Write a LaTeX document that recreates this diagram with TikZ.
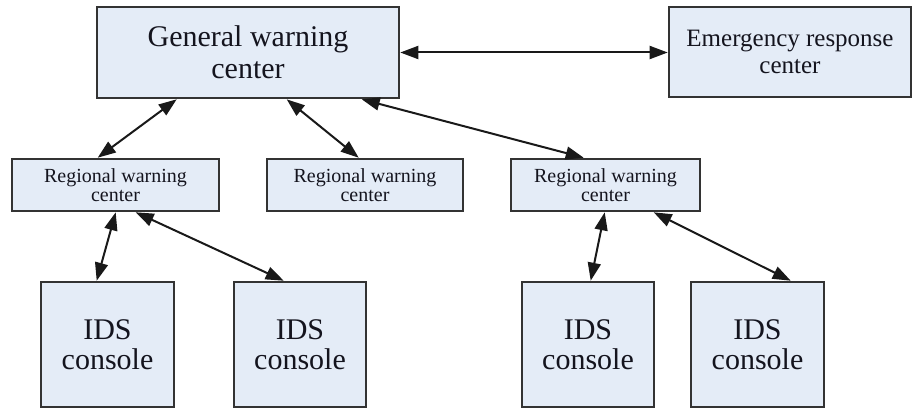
\documentclass[tikz,border=0pt]{standalone}
\usepackage{fontspec}
\setmainfont{Liberation Serif}
\usetikzlibrary{arrows.meta,calc}
\definecolor{boxfill}{HTML}{E4ECF7}
\definecolor{boxline}{HTML}{333333}
\definecolor{txt}{HTML}{14141E}
\tikzset{
  box/.style={draw=boxline, fill=boxfill, line width=2.6pt, inner sep=0pt, align=center, text=txt},
  bigbox/.style={box, font=\fontsize{30}{32}\selectfont},
  embox/.style={box, font=\fontsize{25}{27}\selectfont},
  regbox/.style={box, font=\fontsize{20}{19}\selectfont},
  idsbox/.style={box, font=\fontsize{30}{30}\selectfont},
  link/.style={line width=2pt, draw=black!90, {Triangle[length=18pt,width=13pt]}-{Triangle[length=18pt,width=13pt]}}
}
\begin{document}
\begin{tikzpicture}[x=1pt,y=1pt]
\useasboundingbox (0,0) rectangle (913,408);
\node[bigbox, minimum width=302pt, minimum height=91pt] (g) at (248,355.5) {General warning\\center};
\node[embox, minimum width=242pt, minimum height=90pt] (e) at (790,356) {Emergency response\\center};
\node[regbox, minimum width=207pt, minimum height=52pt] (r1) at (115.5,223) {Regional warning\\center};
\node[regbox, minimum width=196pt, minimum height=52pt] (r2) at (365,223) {Regional warning\\center};
\node[regbox, minimum width=189pt, minimum height=52pt] (r3) at (605.5,223) {Regional warning\\center};
\node[idsbox, minimum width=133pt, minimum height=125pt] (i1) at (107.5,63.5) {IDS\\console};
\node[idsbox, minimum width=132pt, minimum height=125pt] (i2) at (300,63.5) {IDS\\console};
\node[idsbox, minimum width=132pt, minimum height=125pt] (i3) at (588,63.5) {IDS\\console};
\node[idsbox, minimum width=133pt, minimum height=125pt] (i4) at (757.5,63.5) {IDS\\console};
\draw[link] (g.east) -- (g.east -| e.west);
\draw[link] ([xshift=81pt]g.south west) -- ([xshift=87pt]r1.north west);
\draw[link] ([xshift=191pt]g.south west) -- ([xshift=93pt]r2.north west);
\draw[link] ([xshift=266pt]g.south west) -- ([xshift=74pt]r3.north west);
\draw[link] ([xshift=105pt]r1.south west) -- ([xshift=57pt]i1.north west);
\draw[link] ([xshift=125pt]r1.south west) -- ([xshift=51pt]i2.north west);
\draw[link] ([xshift=95pt]r3.south west) -- ([xshift=70pt]i3.north west);
\draw[link] ([xshift=144pt]r3.south west) -- ([xshift=101pt]i4.north west);
\end{tikzpicture}
\end{document}
